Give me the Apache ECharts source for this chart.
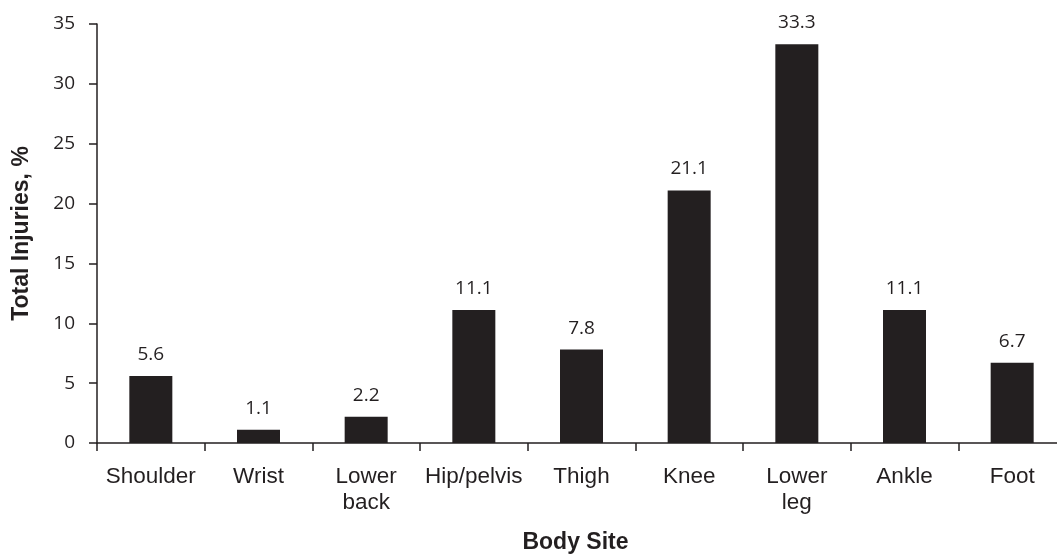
<!DOCTYPE html>
<html>
<head>
<meta charset="utf-8">
<script src="https://cdn.jsdelivr.net/npm/echarts@6/dist/echarts.min.js"></script>
<style>
  html, body { margin: 0; padding: 0; background: #fff; }
  #chart { width: 1057px; height: 554px; }
</style>
</head>
<body>
<div id="chart"></div>
<script>
// body sites and share of total injuries (%)
const sites = ["Shoulder", "Wrist", "Lower\nback", "Hip/pelvis", "Thigh", "Knee", "Lower\nleg", "Ankle", "Foot"];
const injuries = [5.6, 1.1, 2.2, 11.1, 7.8, 21.1, 33.3, 11.1, 6.7];
const yTicks = [0, 5, 10, 15, 20, 25, 30, 35];

const ink = "#231f20";

const chart = echarts.init(document.getElementById("chart"));
chart.setOption({
  animation: false,
  backgroundColor: "#fff",
  grid: {
    left: 97,
    top: 24,
    width: 969, // the axis runs past the right edge in the original
    height: 419,
    outerBoundsMode: "none"
  },
  xAxis: {
    type: "category",
    data: sites,
    name: "Body Site",
    nameLocation: "middle",
    nameGap: 88,
    nameTextStyle: {
      fontFamily: "Liberation Sans",
      fontWeight: "bold",
      fontSize: 23,
      color: ink,
      padding: [0, 12, 0, 0]
    },
    axisLine: { lineStyle: { color: ink, width: 1.5 } },
    axisTick: { show: true, length: 8, lineStyle: { color: ink, width: 1.5 } },
    axisLabel: {
      interval: 0,
      margin: 21,
      fontFamily: "Liberation Sans",
      fontSize: 22.5,
      lineHeight: 26,
      color: ink
    }
  },
  yAxis: {
    type: "value",
    min: yTicks[0],
    max: yTicks[yTicks.length - 1],
    interval: 5,
    name: "Total Injuries, %",
    nameLocation: "middle",
    nameGap: 64,
    nameTextStyle: {
      fontFamily: "Liberation Sans",
      fontWeight: "bold",
      fontSize: 23,
      color: ink
    },
    axisLine: { show: true, lineStyle: { color: ink, width: 1.5 } },
    axisTick: { show: true, length: 8, lineStyle: { color: ink, width: 1.5 } },
    splitLine: { show: false },
    axisLabel: {
      margin: 22,
      fontFamily: "Open Sans",
      fontSize: 19,
      color: ink
    }
  },
  series: [
    {
      type: "bar",
      data: injuries,
      barWidth: 43,
      itemStyle: { color: ink },
      label: {
        show: true,
        position: "top",
        distance: 12,
        fontFamily: "Open Sans",
        fontSize: 19,
        color: ink,
        formatter: p => p.value.toFixed(1)
      }
    }
  ]
});
</script>
</body>
</html>
